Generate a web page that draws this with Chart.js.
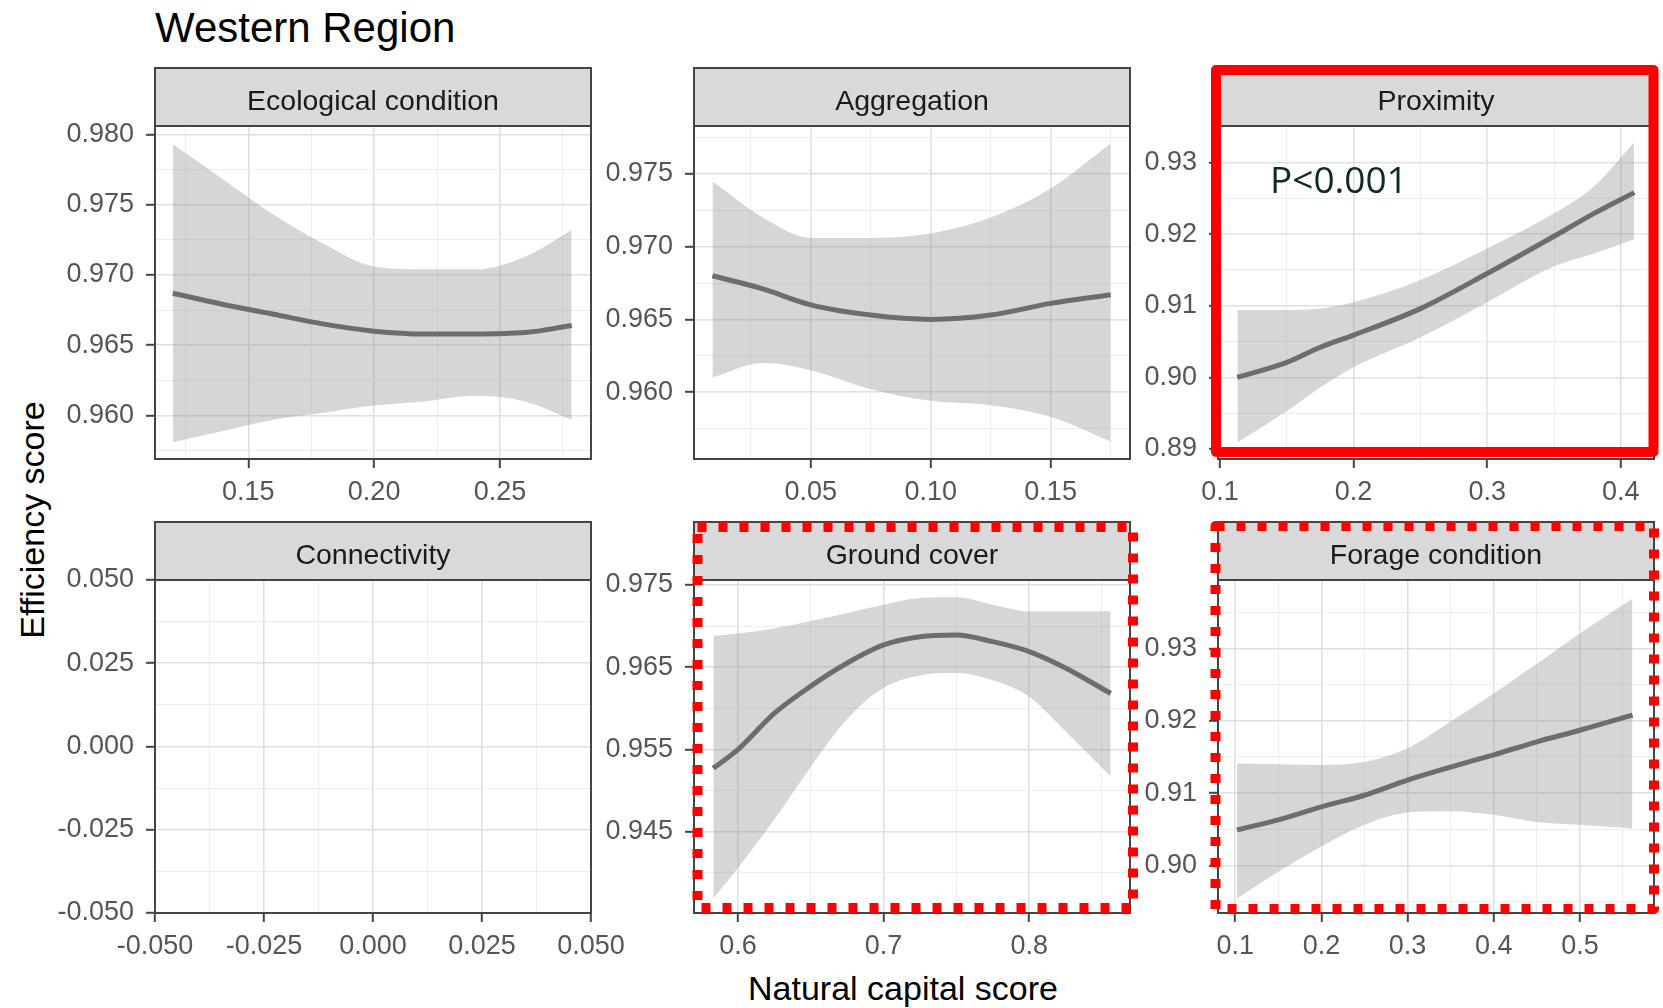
<!DOCTYPE html>
<html>
<head>
<meta charset="utf-8">
<script src="https://cdn.jsdelivr.net/npm/chart.js@4.4.1/dist/chart.umd.min.js"></script>
<style>
body { margin: 0; background: #fff; }
#page { position: relative; width: 1663px; height: 1008px; overflow: hidden; background: #fff;
        font-family: "Liberation Sans", Arial, sans-serif; }
#page canvas { position: absolute; }
.txt { position: absolute; white-space: nowrap; color: #000; }
</style>
</head>
<body>
<div id="page">
  <div class="txt" style="left:155px;top:7px;font-size:42px;line-height:42px;">Western Region</div>
  <div class="txt" style="left:603px;top:971px;width:600px;text-align:center;font-size:34px;line-height:34px;">Natural capital score</div>
  <div class="txt" style="left:-168px;top:503px;width:400px;text-align:center;font-size:34px;line-height:34px;transform:rotate(-90deg);">Efficiency score</div>
</div>
<script>
// ---- data ----
// Ecological condition
var ecoX    = [0.120, 0.140, 0.160, 0.180, 0.200, 0.220, 0.240, 0.260, 0.2785];
var ecoFit  = [0.9687, 0.9679, 0.9672, 0.9665, 0.9660, 0.9658, 0.9658, 0.9659, 0.9664];
var ecoLow  = [0.9581, 0.9589, 0.9597, 0.9602, 0.9607, 0.9610, 0.9614, 0.9610, 0.9597];
var ecoHigh = [0.9793, 0.9768, 0.9743, 0.9722, 0.9706, 0.9704, 0.9704, 0.9713, 0.9732];
var ecoXRange = [0.1129, 0.2862], ecoYRange = [0.9569, 0.9806];
var ecoXTicks = [0.15, 0.20, 0.25], ecoXLabels = ['0.15', '0.20', '0.25'];
var ecoYTicks = [0.960, 0.965, 0.970, 0.975, 0.980], ecoYLabels = ['0.960', '0.965', '0.970', '0.975', '0.980'];

// Aggregation
var aggX    = [0.009, 0.030, 0.050, 0.075, 0.100, 0.125, 0.150, 0.175];
var aggFit  = [0.9680, 0.9671, 0.9660, 0.9653, 0.9650, 0.9653, 0.9661, 0.9667];
var aggLow  = [0.9610, 0.9620, 0.9615, 0.9602, 0.9594, 0.9591, 0.9583, 0.9566];
var aggHigh = [0.9745, 0.9720, 0.9706, 0.9706, 0.9709, 0.9720, 0.9740, 0.9771];
var aggXRange = [0.0013, 0.1831], aggYRange = [0.9554, 0.9783];
var aggXTicks = [0.05, 0.10, 0.15], aggXLabels = ['0.05', '0.10', '0.15'];
var aggYTicks = [0.960, 0.965, 0.970, 0.975], aggYLabels = ['0.960', '0.965', '0.970', '0.975'];

// Proximity
var proxX    = [0.113, 0.150, 0.175, 0.200, 0.250, 0.300, 0.350, 0.380, 0.410];
var proxFit  = [0.9000, 0.9021, 0.9042, 0.9059, 0.9096, 0.9145, 0.9197, 0.9229, 0.9258];
var proxLow  = [0.8909, 0.8953, 0.8986, 0.9014, 0.9056, 0.9105, 0.9155, 0.9173, 0.9193];
var proxHigh = [0.9094, 0.9094, 0.9096, 0.9105, 0.9136, 0.9180, 0.9229, 0.9267, 0.9328];
var proxXRange = [0.0985, 0.4248], proxYRange = [0.8886, 0.9351];
var proxXTicks = [0.1, 0.2, 0.3, 0.4], proxXLabels = ['0.1', '0.2', '0.3', '0.4'];
var proxYTicks = [0.89, 0.90, 0.91, 0.92, 0.93], proxYLabels = ['0.89', '0.90', '0.91', '0.92', '0.93'];

// Connectivity (empty panel)
var conXRange = [-0.05, 0.05], conYRange = [-0.05, 0.05];
var conTicks = [-0.05, -0.025, 0, 0.025, 0.05], conLabels = ['-0.050', '-0.025', '0.000', '0.025', '0.050'];

// Ground cover
var gcX    = [0.583, 0.600, 0.625, 0.650, 0.675, 0.700, 0.725, 0.750, 0.775, 0.800, 0.825, 0.856];
var gcFit  = [0.9527, 0.9550, 0.9594, 0.9627, 0.9655, 0.9677, 0.9687, 0.9689, 0.9681, 0.9669, 0.9649, 0.9618];
var gcLow  = [0.9369, 0.9406, 0.9465, 0.9529, 0.9587, 0.9625, 0.9640, 0.9643, 0.9634, 0.9614, 0.9572, 0.9517];
var gcHigh = [0.9688, 0.9691, 0.9697, 0.9706, 0.9716, 0.9726, 0.9734, 0.9735, 0.9726, 0.9718, 0.9718, 0.9718];
var gcXRange = [0.5697, 0.8693], gcYRange = [0.9351, 0.9756];
var gcXTicks = [0.6, 0.7, 0.8], gcXLabels = ['0.6', '0.7', '0.8'];
var gcYTicks = [0.945, 0.955, 0.965, 0.975], gcYLabels = ['0.945', '0.955', '0.965', '0.975'];

// Forage condition
var forX    = [0.102, 0.150, 0.200, 0.250, 0.300, 0.350, 0.400, 0.450, 0.500, 0.561];
var forFit  = [0.9049, 0.9063, 0.9081, 0.9097, 0.9118, 0.9136, 0.9153, 0.9171, 0.9187, 0.9208];
var forLow  = [0.8954, 0.8991, 0.9026, 0.9056, 0.9073, 0.9075, 0.9070, 0.9060, 0.9056, 0.9051];
var forHigh = [0.9141, 0.9140, 0.9139, 0.9143, 0.9162, 0.9199, 0.9238, 0.9279, 0.9321, 0.9369];
var forXRange = [0.0800, 0.5860], forYRange = [0.8934, 0.9395];
var forXTicks = [0.1, 0.2, 0.3, 0.4, 0.5], forXLabels = ['0.1', '0.2', '0.3', '0.4', '0.5'];
var forYTicks = [0.90, 0.91, 0.92, 0.93], forYLabels = ['0.90', '0.91', '0.92', '0.93'];

// ---- layout ----
var colLeft = [155, 694, 1218];
var rowTop = [126, 580];
var PW = 436, PH = 333;
var YAXIS_W = 150, XAXIS_H = 60, PAD_TOP = 70, PAD_RIGHT = 50;

Chart.defaults.font.family = '"Liberation Sans", Arial, sans-serif';
Chart.defaults.font.size = 27;
Chart.defaults.color = '#555555';

var panels = [
  { strip: 'Ecological condition', col: 0, row: 0, x: ecoX, fit: ecoFit, low: ecoLow, high: ecoHigh,
    xr: ecoXRange, yr: ecoYRange, xt: ecoXTicks, xl: ecoXLabels, yt: ecoYTicks, yl: ecoYLabels },
  { strip: 'Aggregation', col: 1, row: 0, x: aggX, fit: aggFit, low: aggLow, high: aggHigh,
    xr: aggXRange, yr: aggYRange, xt: aggXTicks, xl: aggXLabels, yt: aggYTicks, yl: aggYLabels },
  { strip: 'Proximity', col: 2, row: 0, x: proxX, fit: proxFit, low: proxLow, high: proxHigh,
    xr: proxXRange, yr: proxYRange, xt: proxXTicks, xl: proxXLabels, yt: proxYTicks, yl: proxYLabels,
    note: 'P<0.001', box: { dash: [], l: -2, r: -0.5, t: -56, b: -7 } },
  { strip: 'Connectivity', col: 0, row: 1, x: null,
    xr: conXRange, yr: conYRange, xt: conTicks, xl: conLabels, yt: conTicks, yl: conLabels },
  { strip: 'Ground cover', col: 1, row: 1, x: gcX, fit: gcFit, low: gcLow, high: gcHigh,
    xr: gcXRange, yr: gcYRange, xt: gcXTicks, xl: gcXLabels, yt: gcYTicks, yl: gcYLabels,
    box: { dash: [9, 12], l: 3.5, r: 3, t: -53, b: -5 } },
  { strip: 'Forage condition', col: 2, row: 1, x: forX, fit: forFit, low: forLow, high: forHigh,
    xr: forXRange, yr: forYRange, xt: forXTicks, xl: forXLabels, yt: forYTicks, yl: forYLabels,
    box: { dash: [9, 12], l: -2.5, r: 0, t: -54, b: -4 } }
];

// major ticks plus ggplot-style minor breaks half way between
function tickList(majors, labels, range) {
  var out = [];
  var step = majors[1] - majors[0];
  for (var i = -1; i < majors.length; i++) {
    if (i >= 0) out.push({ value: majors[i], isMajor: true, text: labels[i] });
    var m = (i >= 0 ? majors[i] : majors[0] - step) + step / 2;
    if (m > range[0] && m < range[1]) out.push({ value: m, isMajor: false, text: '' });
  }
  out.sort(function(a, b) { return a.value - b.value; });
  return out;
}

var panelDecor = {
  id: 'panelDecor',
  afterDraw: function(chart, args, opts) {
    var ctx = chart.ctx, a = chart.chartArea;
    var w = a.right - a.left;
    ctx.save();
    // strip
    ctx.fillStyle = '#D9D9D9';
    ctx.fillRect(a.left, a.top - 58, w, 58);
    ctx.strokeStyle = '#444444';
    ctx.lineWidth = 2;
    ctx.strokeRect(a.left, a.top - 58, w, 58);
    ctx.strokeRect(a.left, a.top, w, a.bottom - a.top);
    ctx.fillStyle = '#1A1A1A';
    ctx.font = '28.5px "Liberation Sans", Arial, sans-serif';
    ctx.textAlign = 'center';
    ctx.textBaseline = 'middle';
    ctx.fillText(opts.strip, (a.left + a.right) / 2, a.top - 24);
    if (opts.note) {
      ctx.fillStyle = '#0d2a2a';
      ctx.font = '37px "Open Sans", sans-serif';
      ctx.textAlign = 'left';
      ctx.textBaseline = 'alphabetic';
      ctx.fillText(opts.note, a.left + 52, a.top + 67);
    }
    if (opts.box) {
      var b = opts.box;
      ctx.strokeStyle = '#FF0000';
      ctx.lineWidth = 10;
      ctx.lineJoin = 'round';
      ctx.setLineDash(b.dash);
      ctx.strokeRect(a.left + b.l, a.top + b.t, (a.right + b.r) - (a.left + b.l), (a.bottom + b.b) - (a.top + b.t));
    }
    ctx.restore();
  }
};

function axis(range, ticks, isY) {
  return {
    type: 'linear',
    min: range[0],
    max: range[1],
    afterBuildTicks: function(scale) { scale.ticks = ticks; },
    afterFit: function(scale) {
      if (isY) scale.width = YAXIS_W; else scale.height = XAXIS_H;
      // keep the plot area fixed even when edge labels overhang
      scale.paddingLeft = 0; scale.paddingRight = 0;
      scale.paddingTop = 0; scale.paddingBottom = 0;
    },
    border: { display: false },
    grid: {
      color: function(c) { return c.tick && c.tick.isMajor ? '#E0E0E0' : '#EDEDED'; },
      lineWidth: function(c) { return c.tick && c.tick.isMajor ? 1.6 : 1; },
      tickColor: function(c) { return c.tick && c.tick.isMajor ? '#444444' : 'rgba(0,0,0,0)'; },
      tickWidth: 2,
      tickLength: 9
    },
    ticks: {
      autoSkip: false,
      maxRotation: 0,
      padding: isY ? 12 : 8,
      color: '#555555',
      font: { size: 27 },
      callback: function(v, i, t) { return ticks[i] ? ticks[i].text : ''; }
    }
  };
}

function pts(xs, ys) {
  return xs.map(function(x, i) { return { x: x, y: ys[i] }; });
}

var page = document.getElementById('page');
panels.forEach(function(p) {
  var L = colLeft[p.col], T = rowTop[p.row];
  var cv = document.createElement('canvas');
  cv.width = YAXIS_W + PW + PAD_RIGHT;
  cv.height = PAD_TOP + PH + XAXIS_H;
  cv.style.left = (L - YAXIS_W) + 'px';
  cv.style.top = (T - PAD_TOP) + 'px';
  page.appendChild(cv);

  var datasets = [];
  if (p.x) {
    datasets.push({ data: pts(p.x, p.low), borderWidth: 0, pointRadius: 0, fill: false,
                    cubicInterpolationMode: 'monotone' });
    datasets.push({ data: pts(p.x, p.high), borderWidth: 0, pointRadius: 0, fill: '-1',
                    backgroundColor: 'rgba(153,153,153,0.4)', cubicInterpolationMode: 'monotone' });
    datasets.push({ data: pts(p.x, p.fit), borderColor: '#505050', borderWidth: 5, pointRadius: 0,
                    fill: false, cubicInterpolationMode: 'monotone' });
  }

  new Chart(cv, {
    type: 'line',
    data: { datasets: datasets },
    options: {
      responsive: false,
      animation: false,
      devicePixelRatio: 1,
      layout: { padding: { left: 0, top: PAD_TOP, right: PAD_RIGHT, bottom: 0 } },
      scales: {
        x: axis(p.xr, tickList(p.xt, p.xl, p.xr), false),
        y: axis(p.yr, tickList(p.yt, p.yl, p.yr), true)
      },
      plugins: {
        legend: { display: false },
        tooltip: { enabled: false },
        panelDecor: { strip: p.strip, note: p.note, box: p.box }
      }
    },
    plugins: [panelDecor]
  });
});
</script>
</body>
</html>
